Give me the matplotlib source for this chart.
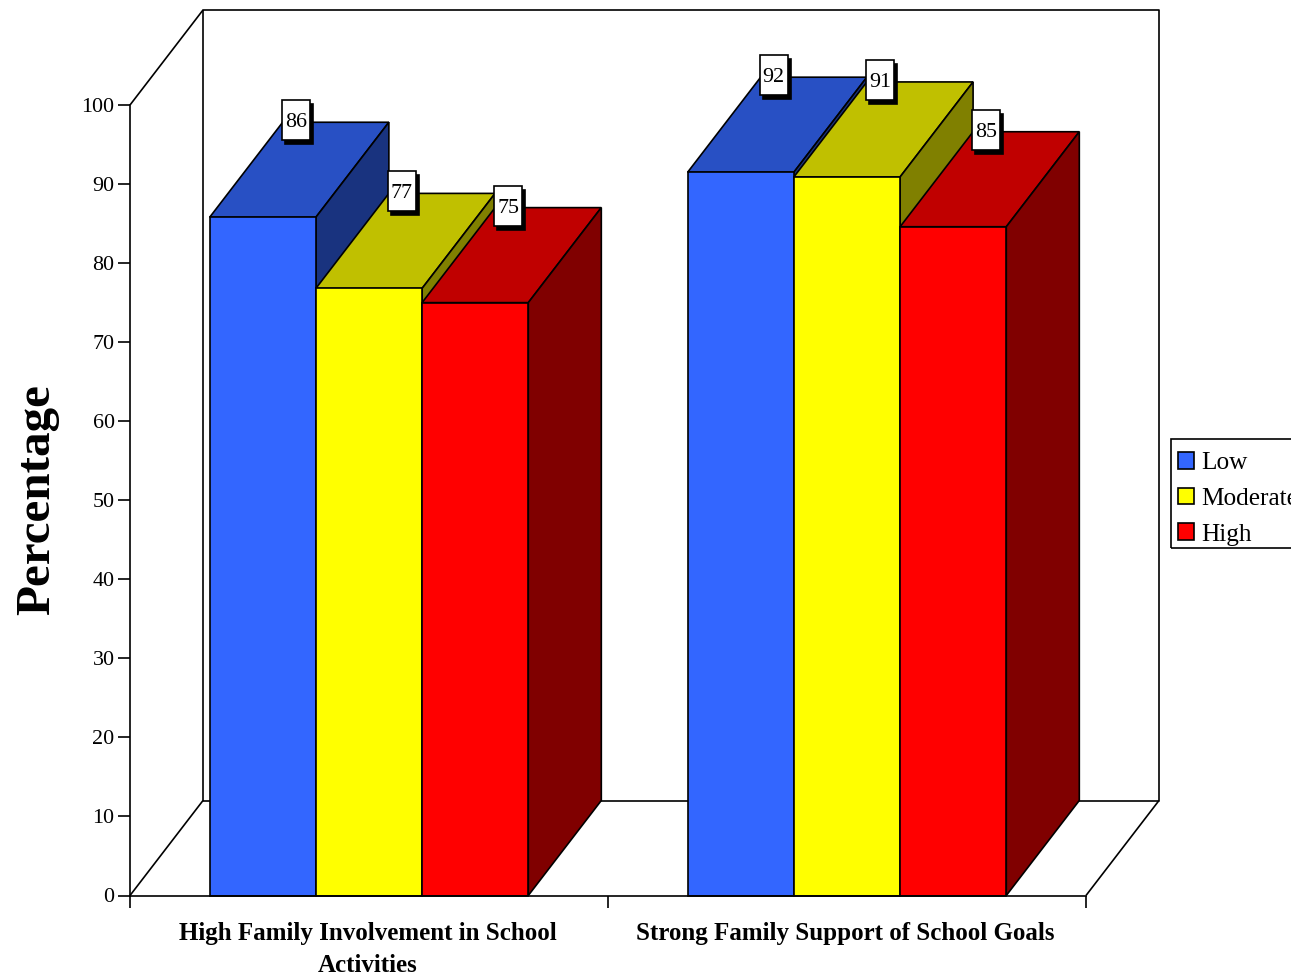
import matplotlib
matplotlib.use("Agg")
import matplotlib.pyplot as plt
from matplotlib.patches import Patch, Polygon, Rectangle

plt.rcParams["font.family"] = ["Liberation Serif", "DejaVu Serif"]

categories = ["High Family Involvement in School\nActivities", "Strong Family Support of School Goals"]
series = ["Low", "Moderate", "High"]
low = [85.8, 91.5]
moderate = [76.8, 90.9]
high = [75.0, 84.6]
low_labels = ["86", "92"]
moderate_labels = ["77", "91"]
high_labels = ["75", "85"]
yticks = [0, 10, 20, 30, 40, 50, 60, 70, 80, 90, 100]

colors = {"Low": ("#3366FF", "#2850C4", "#19337F"),
          "Moderate": ("#FFFF00", "#C0C000", "#808000"),
          "High": ("#FF0000", "#C00000", "#800000")}

W, H = 1291, 976
fig = plt.figure(figsize=(W / 100, H / 100), dpi=100, facecolor="white")
ax = fig.add_axes([130 / W, 1 - 895.5 / H, 956 / W, 790.5 / H])
ax.set_xlim(0, 2)
ax.set_ylim(0, 100)
ax.patch.set_visible(False)

# pixel sizes in data units
px_x = 2 / 956
px_y = 100 / 790.5
dx = 73 * px_x
dy = 95 * px_y
lw = 1.2
bar_w = 0.2222


def line(xs, ys):
    ax.plot(xs, ys, color="black", lw=lw, clip_on=False, zorder=1, solid_capstyle="butt")


# back wall, side wall, floor
line([dx, dx, 2 + dx, 2 + dx, dx], [dy, 100 + dy, 100 + dy, dy, dy])
line([0, dx], [100, 100 + dy])
line([0, dx], [0, dy])
line([2, 2 + dx], [0, dy])

all_vals = [low, moderate, high]
all_labels = [low_labels, moderate_labels, high_labels]
boxes = []
for g in range(2):
    for i, name in enumerate(series):
        v = all_vals[i][g]
        x0 = g + 1 / 6 + i * bar_w
        x1 = x0 + bar_w
        front, top, side = colors[name]
        ax.add_patch(Polygon([(x0, v), (x0 + dx, v + dy), (x1 + dx, v + dy), (x1, v)],
                             fc=top, ec="black", lw=lw, clip_on=False, zorder=2 + i))
        ax.add_patch(Polygon([(x1, 0), (x1 + dx, dy), (x1 + dx, v + dy), (x1, v)],
                             fc=side, ec="black", lw=lw, clip_on=False, zorder=2 + i))
        ax.bar(x0, v, width=bar_w, align="edge", color=front, edgecolor="black",
               linewidth=lw, clip_on=False, zorder=2 + i)
        boxes.append((x0 + bar_w / 2 + 33 * px_x, v + dy + 2 * px_y, all_labels[i][g]))

# value labels with drop shadow
bw = 28 * px_x
bh = 40 * px_y
for cx, cy, txt in boxes:
    ax.add_patch(Rectangle((cx - bw / 2 + 3 * px_x, cy - bh / 2 - 4 * px_y), bw, bh,
                           fc="black", ec="black", lw=lw, clip_on=False, zorder=10))
    ax.add_patch(Rectangle((cx - bw / 2, cy - bh / 2), bw, bh,
                           fc="white", ec="black", lw=lw, clip_on=False, zorder=11))
    ax.text(cx, cy - 2.5 * px_y, txt, ha="center", va="center", fontsize=15.8, zorder=12)

for s in ["top", "right"]:
    ax.spines[s].set_visible(False)
for s in ["left", "bottom"]:
    ax.spines[s].set_linewidth(lw)
    ax.spines[s].set_zorder(9)

ax.set_yticks(yticks)
ax.tick_params(axis="y", length=8.6, width=lw, labelsize=15.8, pad=2.5)
ax.set_xticks([0, 1, 2])
ax.set_xticklabels([])
ax.tick_params(axis="x", which="major", length=8.6, width=lw)
ax.set_xticks([0.498, 1.497], minor=True)
ax.set_xticklabels(categories, minor=True, fontsize=18, fontweight="bold", linespacing=1.48)
ax.tick_params(axis="x", which="minor", length=0, pad=19)

fig.text(37 / W, 1 - 500 / H, "Percentage", rotation=90, ha="center", va="center",
         fontsize=35.4, fontweight="bold")

# legend frame runs off the right edge, rows sit a bit low inside it
fig.add_artist(Rectangle((1171 / W, 1 - 548 / H), 140 / W, 109 / H, fc="none", ec="black",
                         lw=lw, transform=fig.transFigure))
handles = [Patch(fc=colors[n][0], ec="black", lw=lw) for n in series]
leg = ax.legend(handles, series, loc="upper left", bbox_to_anchor=(1171 / W, 1 - 445 / H),
                bbox_transform=fig.transFigure, fontsize=18.2, frameon=False,
                handlelength=0.64, handleheight=0.64, handletextpad=0.26, borderpad=0.28,
                labelspacing=0.53, borderaxespad=0)
leg.set_zorder(20)

fig.savefig("out.png", dpi=100)
